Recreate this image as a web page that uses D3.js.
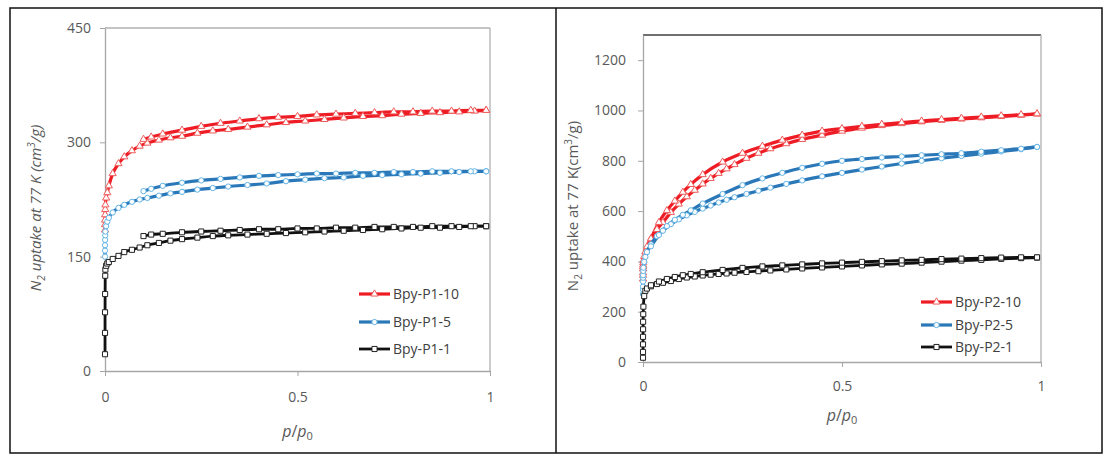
<!DOCTYPE html>
<html><head><meta charset="utf-8">
<script src="https://cdn.jsdelivr.net/npm/d3@7"></script>
<style>
body{margin:0;background:#fff;}
svg{display:block;font-family:"Open Sans","Noto Sans",sans-serif;}
</style></head>
<body><svg id="c" width="1111" height="457"></svg>
<script>
// ---------- Left panel (Bpy-P1 series) ----------
const leftAdsP = [0.00001,0.00005,0.0001,0.0003,0.0006,0.001,0.003,0.006,0.01,0.02,0.035,0.05,0.07,0.09,0.11,0.14,0.17,0.2,0.24,0.28,0.32,0.37,0.42,0.47,0.52,0.57,0.62,0.67,0.72,0.77,0.82,0.87,0.92,0.96,0.99];
const leftDesP = [0.99,0.95,0.9,0.85,0.8,0.75,0.7,0.65,0.6,0.55,0.5,0.45,0.4,0.35,0.3,0.25,0.2,0.15,0.12,0.1];
const p1_10_ads = [185,192,198,205,212,218,227,234,243,259,272,281,289,295,299,303,306,308,312,315,317,320,323,326,328,330,332,334,335,337,338,339,340,341,342];
const p1_10_des = [342,342,341,341,340,340,339,338,337,336,334,333,331,328,325,321,316,311,307,304];
const p1_5_ads  = [150,158,165,172,178,183,190,196,201,208,214,218,222,225,227,230,233,235,238,240,242,244,246,249,251,253,254,256,257,258,259,260,261,262,262];
const p1_5_des  = [262,262,262,262,261,261,260,260,259,259,258,257,256,254,252,250,247,243,239,236];
const p1_1_ads  = [22,50,77,101,125,133,138,141,143,147,151,156,159,162,165,168,171,173,175,177,178,179,180,181,182,183,184,185,186,187,188,188,189,190,190];
const p1_1_des  = [190,190,190,190,189,189,189,188,188,187,187,186,186,185,184,183,182,180,179,177];
const leftNames = ["Bpy-P1-10","Bpy-P1-5","Bpy-P1-1"];
const leftYTicks = [0,150,300,450];

// ---------- Right panel (Bpy-P2 series) ----------
const rightAdsP = [0.00001,0.00003,0.00005,0.0001,0.0002,0.0003,0.0006,0.001,0.003,0.006,0.01,0.02,0.035,0.05,0.07,0.09,0.11,0.13,0.15,0.17,0.19,0.21,0.23,0.26,0.29,0.32,0.36,0.4,0.45,0.5,0.55,0.6,0.65,0.7,0.75,0.8,0.85,0.9,0.95,0.99];
const rightDesP = [0.99,0.95,0.9,0.85,0.8,0.75,0.7,0.65,0.6,0.55,0.5,0.45,0.4,0.35,0.3,0.25,0.2,0.15,0.12,0.1,0.08,0.06,0.04,0.02];
const p2_10_ads = [330,345,355,370,378,385,395,403,420,438,458,490,527,555,595,628,657,683,708,730,750,768,785,810,830,848,868,885,902,918,930,940,948,955,961,966,971,976,981,986];
const p2_10_des = [987,983,979,974,969,964,958,952,945,937,928,918,902,882,858,830,795,745,706,675,640,602,555,490];
const p2_5_ads  = [270,288,300,320,335,345,362,375,398,418,437,468,500,522,548,567,583,597,610,622,634,645,655,668,681,693,708,722,738,752,765,777,789,800,810,819,828,837,846,855];
const p2_5_des  = [855,848,842,836,830,826,822,817,813,807,800,788,772,752,730,703,668,630,603,585,565,540,505,460];
const p2_1_ads  = [17,40,70,100,130,160,190,220,262,283,292,301,310,315,322,330,336,340,344,347,350,352,355,358,361,364,368,372,376,380,384,388,391,395,399,403,406,410,413,415];
const p2_1_des  = [416,416,415,413,411,409,406,404,401,398,395,392,388,384,380,374,366,357,350,345,338,330,320,305];
const rightNames = ["Bpy-P2-10","Bpy-P2-5","Bpy-P2-1"];
const rightYTicks = [0,200,400,600,800,1000,1200];

const xTicks = [0,0.5,1];

const svg = d3.select("#c");

// outer frame + divider
const frame = svg.append("g").attr("stroke","#111").attr("stroke-width",1.5).attr("fill","none");
frame.append("rect").attr("x",10).attr("y",8).attr("width",1092).attr("height",445);
frame.append("line").attr("x1",556).attr("x2",556).attr("y1",8).attr("y2",453);

const styles = [
  {color:"#ee1c24", mstroke:"#f05a5a", shape:d3.symbolTriangle, msize:22, lw:3.2},
  {color:"#2b78b8", mstroke:"#62b4e6", shape:d3.symbolCircle, msize:22, lw:3.2},
  {color:"#111111", mstroke:"#222222", shape:d3.symbolSquare, msize:26, lw:2.8}
];

function drawPanel(opt){
  const g = svg.append("g");
  const x = d3.scaleLinear().domain([0,1]).range([opt.x0,opt.x1]);
  const y = d3.scaleLinear().domain([0,opt.ymax]).range([opt.y1,opt.y0]);

  // plot box
  g.append("line").attr("x1",opt.x0).attr("x2",opt.x1).attr("y1",opt.y0).attr("y2",opt.y0)
    .attr("stroke",opt.topColor).attr("stroke-width",1.3);
  g.append("line").attr("x1",opt.x1).attr("x2",opt.x1).attr("y1",opt.y0).attr("y2",opt.y1)
    .attr("stroke","#b0b0b0").attr("stroke-width",1.3);

  const ya = g.append("g").attr("transform",`translate(${opt.x0},0)`)
    .call(d3.axisLeft(y).tickValues(opt.yTicks).tickFormat(d3.format("d")).tickSizeInner(5).tickSizeOuter(0).tickPadding(opt.yPad));
  const xa = g.append("g").attr("transform",`translate(0,${opt.y1})`)
    .call(d3.axisBottom(x).tickValues(xTicks).tickFormat(d=>d===0.5?"0.5":d3.format("d")(d)).tickSizeInner(5).tickSizeOuter(0).tickPadding(opt.xPad));
  [ya,xa].forEach(a=>{
    a.select(".domain").attr("stroke","#a6a6a6").attr("stroke-width",1.3);
    a.selectAll(".tick line").attr("stroke","#a6a6a6");
    a.selectAll("text").attr("fill","#595959").style("font-size","14px").style("font-family","'Open Sans',sans-serif");
  });

  // series
  const line = d3.line().x(d=>x(d[0])).y(d=>y(d[1])).curve(d3.curveMonotoneX);
  opt.series.forEach((s,i)=>{
    const st = styles[i];
    const ads = opt.adsP.map((p,k)=>[p,s.ads[k]]);
    const des = opt.desP.map((p,k)=>[p,s.des[k]]);
    [ads, des.slice().sort((a,b)=>a[0]-b[0])].forEach(arr=>{
      g.append("path").datum(arr).attr("d",line).attr("fill","none")
        .attr("stroke",st.color).attr("stroke-width",st.lw).attr("stroke-linejoin","round");
    });
    g.append("g").selectAll("path").data(ads.concat(des)).join("path")
      .attr("transform",d=>`translate(${x(d[0])},${y(d[1])})`)
      .attr("d",d3.symbol().type(st.shape).size(st.msize))
      .attr("fill","#fff").attr("stroke",st.mstroke).attr("stroke-width",1);
  });

  // legend
  opt.names.forEach((n,i)=>{
    const st = styles[i];
    const ly = opt.legY[i];
    g.append("line").attr("x1",opt.legX).attr("x2",opt.legX+31).attr("y1",ly).attr("y2",ly)
      .attr("stroke",st.color).attr("stroke-width",st.lw);
    g.append("path").attr("transform",`translate(${opt.legX+15.5},${ly})`)
      .attr("d",d3.symbol().type(st.shape).size(st.msize)).attr("fill","#fff").attr("stroke",st.mstroke);
    g.append("text").attr("x",opt.legX+34).attr("y",ly).attr("dy","0.35em")
      .attr("fill","#404040").style("font-size","14px").text(n);
  });

  // x label p/p0
  const xl = g.append("text").attr("x",(opt.x0+opt.x1)/2).attr("y",opt.xLabY)
    .attr("text-anchor","middle").attr("fill","#595959").style("font-size","16px");
  xl.append("tspan").style("font-style","italic").text("p");
  xl.append("tspan").text("/");
  xl.append("tspan").style("font-style","italic").text("p");
  xl.append("tspan").attr("dy","3").style("font-size","11px").text("0");

  // y label
  const yl = g.append("text").attr("transform",`translate(${opt.yLabX},${opt.yLabY}) rotate(-90)`)
    .attr("text-anchor","middle").attr("fill","#595959").style("font-size","15px")
    .style("font-style",opt.yItalic?"italic":"normal");
  yl.append("tspan").text("N");
  yl.append("tspan").attr("dy","4").style("font-size","10px").text("2");
  yl.append("tspan").attr("dy","-4").text(opt.yMid);
  yl.append("tspan").attr("dy","-6").style("font-size","10px").text("3");
  yl.append("tspan").attr("dy","6").text("/g)");
}

drawPanel({
  x0:105,x1:490,y0:28,y1:371,ymax:450,yTicks:leftYTicks,yPad:9,xPad:16,topColor:"#b0b0b0",
  adsP:leftAdsP,desP:leftDesP,
  series:[{ads:p1_10_ads,des:p1_10_des},{ads:p1_5_ads,des:p1_5_des},{ads:p1_1_ads,des:p1_1_des}],
  names:leftNames,legX:359,legY:[294,322,349],
  xLabY:437,yLabX:41,yLabY:208,yItalic:true,yMid:" uptake at 77 K (cm"
});
drawPanel({
  x0:643,x1:1041,y0:35,y1:362,ymax:1300,yTicks:rightYTicks,yPad:12,xPad:14,topColor:"#404040",
  adsP:rightAdsP,desP:rightDesP,
  series:[{ads:p2_10_ads,des:p2_10_des},{ads:p2_5_ads,des:p2_5_des},{ads:p2_1_ads,des:p2_1_des}],
  names:rightNames,legX:921,legY:[302,325,347],
  xLabY:421,yLabX:578,yLabY:206,yItalic:false,yMid:" uptake at 77 K(cm"
});
</script></body></html>
